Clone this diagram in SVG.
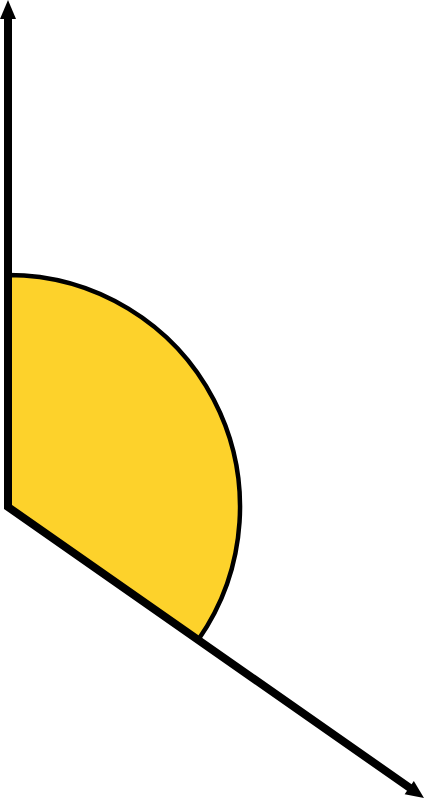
<svg xmlns="http://www.w3.org/2000/svg" width="426" height="800" viewBox="0 0 426 800">
<style>
.sector{fill:#FDD22B;stroke:#000;stroke-width:4.5}
.ray{fill:none;stroke:#000;stroke-width:8;stroke-linejoin:miter;stroke-miterlimit:2}
.head{fill:#000}
</style>
<rect width="426" height="800" fill="#fff"/>
<g id="angle-sector">
<path class="sector" d="M8,507 L8,275 A232,232 0 0 1 198.1,640 Z"/>
</g>
<g id="connectors">
<path class="ray" d="M8,18 L8,507 L410,788"/>
<polygon class="head" points="0,19 16,19 8,0"/>
<polygon class="head" points="424,798 404.66,794.24 413.84,781.12"/>
</g>
</svg>
